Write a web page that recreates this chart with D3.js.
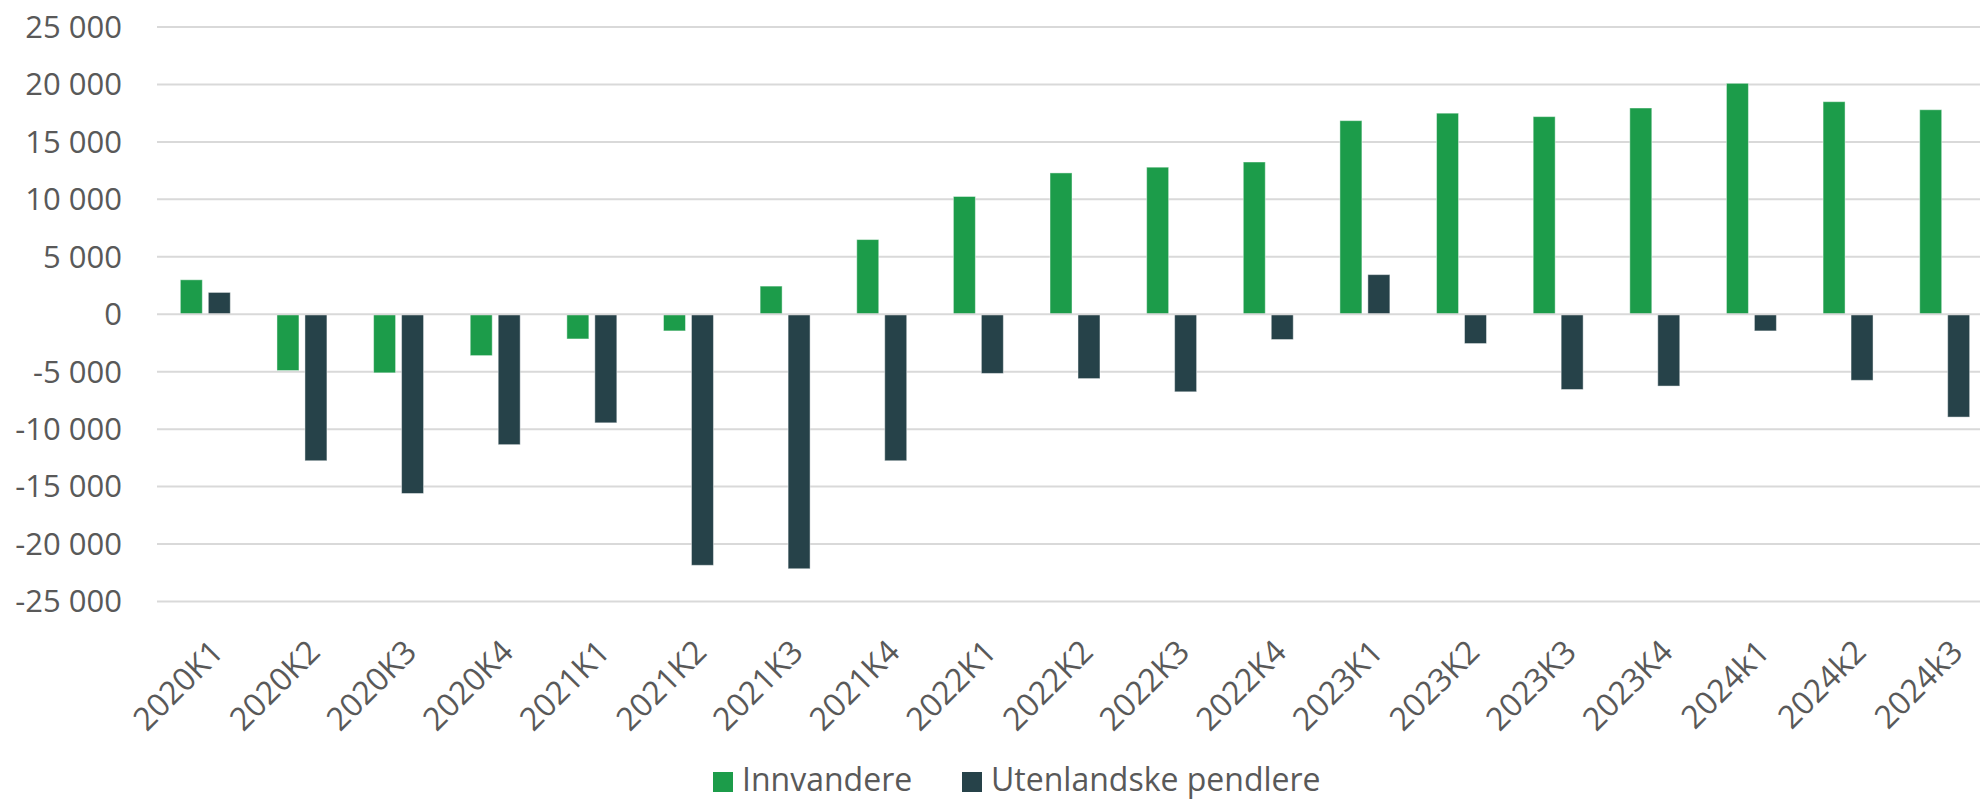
<!DOCTYPE html>
<html>
<head>
<meta charset="utf-8">
<script src="https://cdn.jsdelivr.net/npm/d3@7"></script>
<style>
  body { margin: 0; background: #fff; }
  text { font-family: "Open Sans", sans-serif; fill: #595959; }
</style>
</head>
<body>
<script>
// chart data
const quarters = ["2020K1", "2020K2", "2020K3", "2020K4", "2021K1", "2021K2", "2021K3", "2021K4",
  "2022K1", "2022K2", "2022K3", "2022K4", "2023K1", "2023K2", "2023K3", "2023K4",
  "2024k1", "2024k2", "2024k3"];
const innvandere = [3000, -4900, -5100, -3600, -2150, -1450, 2450, 6500,
  10250, 12300, 12800, 13250, 16850, 17500, 17200, 17950, 20100, 18500, 17800];
const pendlere = [1900, -12750, -15600, -11350, -9450, -21850, -22150, -12750,
  -5150, -5600, -6750, -2200, 3450, -2550, -6550, -6250, -1450, -5750, -8950];
const seriesNames = ["Innvandere", "Utenlandske pendlere"];
const yTicks = [25000, 20000, 15000, 10000, 5000, 0, -5000, -10000, -15000, -20000, -25000];

const colors = ["#1c9c4a", "#264249"];

let width = 1980, height = 799;
let margin = { top: 27, left: 157, bottom: 197, right: -13 };

let svg = d3.select("body")
  .append("svg")
  .attr("width", width)
  .attr("height", height);

const x0 = d3.scaleBand()
  .domain(quarters)
  .range([margin.left, width - margin.right])
  .paddingInner(0.483)
  .paddingOuter(0.2415);

const x1 = d3.scaleBand()
  .domain(seriesNames)
  .range([0, x0.bandwidth()])
  .paddingInner(0.214);

const y = d3.scaleLinear()
  .domain([-25000, 25000])
  .range([height - margin.bottom - 0.5, margin.top]);

// thousands with a space, plain hyphen for negatives
const fmt = v => (v < 0 ? "-" : "") + d3.format(",")(Math.abs(v)).replace(/,/g, " ");

// gridlines
svg.append("g")
  .selectAll("line")
  .data(yTicks.filter(d => d !== 0))
  .enter()
  .append("line")
  .attr("x1", margin.left)
  .attr("x2", width)
  .attr("y1", d => y(d))
  .attr("y2", d => y(d))
  .attr("stroke", "#d9d9d9")
  .attr("stroke-width", 2);

// y labels
svg.append("g")
  .selectAll("text")
  .data(yTicks)
  .enter()
  .append("text")
  .attr("x", 122)
  .attr("y", d => y(d))
  .attr("dy", "0.35em")
  .attr("text-anchor", "end")
  .style("font-size", "31px")
  .text(d => fmt(d));

// bars
const rows = quarters.map((q, i) => ({ q: q, vals: [innvandere[i], pendlere[i]] }));

const groups = svg.append("g")
  .selectAll("g")
  .data(rows)
  .enter()
  .append("g")
  .attr("transform", d => `translate(${x0(d.q)},0)`);

groups.selectAll("rect")
  .data(d => d.vals.map((v, j) => ({ key: seriesNames[j], v: v, j: j })))
  .enter()
  .append("rect")
  .attr("x", d => x1(d.key))
  .attr("y", d => y(Math.max(0, d.v)))
  .attr("width", x1.bandwidth())
  .attr("height", d => Math.abs(y(d.v) - y(0)))
  .attr("fill", d => colors[d.j])
  .attr("stroke", "#ffffff")
  .attr("stroke-opacity", 0.45)
  .attr("stroke-width", 1);

// zero line on top
svg.append("line")
  .attr("x1", margin.left)
  .attr("x2", width)
  .attr("y1", y(0))
  .attr("y2", y(0))
  .attr("stroke", "#d9d9d9")
  .attr("stroke-width", 2);

// x labels
svg.append("g")
  .selectAll("text")
  .data(quarters)
  .enter()
  .append("text")
  .attr("transform", d => `translate(${x0(d) + x0.bandwidth() / 2 + 12},646)rotate(-45)`)
  .attr("dy", "0.35em")
  .attr("text-anchor", "end")
  .style("font-size", "32px")
  .text(d => d);

// legend
const legendX = [713, 962];
const legend = svg.append("g");
seriesNames.forEach((name, i) => {
  legend.append("rect")
    .attr("x", legendX[i])
    .attr("y", 772)
    .attr("width", 20)
    .attr("height", 20)
    .attr("fill", colors[i]);
  legend.append("text")
    .attr("x", legendX[i] + 29)
    .attr("y", 791)
    .style("font-size", "32px")
    .text(name);
});
</script>
</body>
</html>
